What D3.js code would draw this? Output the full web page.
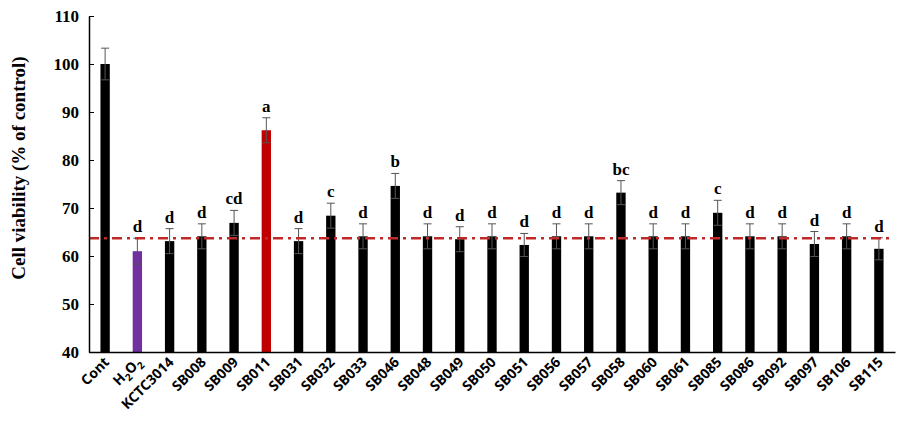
<!DOCTYPE html>
<html><head><meta charset="utf-8">
<script src="https://cdn.jsdelivr.net/npm/d3@7"></script>
<style>body{margin:0;background:#fff}</style>
</head><body><svg id="c" width="913" height="441"></svg>
<script>
const categories = ["Cont","H2O2","KCTC3014","SB008","SB009","SB011","SB031","SB032","SB033","SB046","SB048","SB049","SB050","SB051","SB056","SB057","SB058","SB060","SB061","SB085","SB086","SB092","SB097","SB106","SB115"];
const values = [100,61.0,63.1,64.1,66.9,86.2,63.1,68.4,64.1,74.6,64.1,63.5,64.1,62.3,64.1,64.1,73.2,64.1,64.1,69.0,64.1,64.1,62.5,64.1,61.5];
const errors = [3.3,2.7,2.6,2.6,2.6,2.6,2.6,2.6,2.6,2.6,2.6,2.6,2.6,2.4,2.6,2.6,2.5,2.6,2.6,2.6,2.6,2.6,2.6,2.6,2.3];
const letters = ["","d","d","d","cd","a","d","c","d","b","d","d","d","d","d","d","bc","d","d","c","d","d","d","d","d"];
const barColors = ["#000","#7030a0","#000","#000","#000","#c00000","#000","#000","#000","#000","#000","#000","#000","#000","#000","#000","#000","#000","#000","#000","#000","#000","#000","#000","#000"];
const yTicks = [40,50,60,70,80,90,100,110];
const refLine = 63.7;

const svg = d3.select("#c");
const mLeft = 89, mRight = 895, mTop = 16, mBottom = 352;
const x = d3.scaleBand().domain(categories).range([mLeft, mRight]).paddingInner(0.71).paddingOuter(0.355);
const y = d3.scaleLinear().domain([40,110]).range([mBottom, mTop]);

// bars
svg.selectAll("rect.bar").data(categories).join("rect")
  .attr("x", d => x(d)).attr("width", x.bandwidth())
  .attr("y", (d,i) => y(values[i])).attr("height", (d,i) => mBottom - y(values[i]))
  .attr("fill", (d,i) => barColors[i]);

// error bars
const eb = svg.append("g").attr("stroke", "#555").attr("stroke-width", 1);
categories.forEach((c,i) => {
  const cx = x(c) + x.bandwidth()/2;
  eb.append("line").attr("x1", cx).attr("x2", cx).attr("y1", y(values[i]-errors[i])).attr("y2", y(values[i]+errors[i]));
  eb.append("line").attr("x1", cx-4).attr("x2", cx+4).attr("y1", y(values[i]+errors[i])).attr("y2", y(values[i]+errors[i]));
  eb.append("line").attr("x1", cx-4).attr("x2", cx+4).attr("y1", y(values[i]-errors[i])).attr("y2", y(values[i]-errors[i]));
});

// reference dash-dot line
svg.append("line").attr("x1", mLeft).attr("x2", 892).attr("y1", y(refLine)).attr("y2", y(refLine))
  .attr("stroke", "#c0282a").attr("stroke-width", 2.5).attr("stroke-dasharray", "10,5,3,5");

// letters
svg.selectAll("text.let").data(categories).join("text")
  .attr("x", d => x(d) + x.bandwidth()/2)
  .attr("y", (d,i) => y(values[i]+errors[i]) - 6)
  .attr("text-anchor", "middle")
  .attr("font-family", "Liberation Serif, Times New Roman, serif").attr("font-weight", "bold").attr("font-size", 17)
  .text((d,i) => letters[i]);

// axes
const yAxis = d3.axisLeft(y).tickValues(yTicks).tickSizeInner(-5).tickSizeOuter(0).tickPadding(10);
const gy = svg.append("g").attr("transform", `translate(${mLeft},0)`).call(yAxis);
gy.select(".domain").attr("stroke", "#000").attr("stroke-width", 1.5);
gy.selectAll("line").attr("stroke", "#000");
gy.selectAll("text").attr("font-family", "Liberation Serif, Times New Roman, serif").attr("font-weight", "bold").attr("font-size", 17).attr("fill", "#000");

const xAxis = d3.axisBottom(x).tickSize(0).tickSizeOuter(0).tickFormat("");
const gx = svg.append("g").attr("transform", `translate(0,${mBottom})`).call(xAxis);
gx.select(".domain").attr("stroke", "#000").attr("stroke-width", 1.5);

// x labels rotated -45
const lab = svg.append("g");
categories.forEach(c => {
  const cx = x(c) + x.bandwidth()/2 + 5;
  const t = lab.append("text")
    .attr("x", cx).attr("y", 363)
    .attr("transform", "rotate(-45," + cx.toFixed(2) + ",363)")
    .attr("text-anchor", "end")
    .attr("font-family", "Noto Sans, Open Sans, sans-serif").attr("font-weight", "bold").attr("font-size", 14).attr("fill", "#000");
  if (c === "H2O2") {
    t.append("tspan").text("H");
    t.append("tspan").text("2").attr("font-size", 10).attr("dy", 4);
    t.append("tspan").text("O").attr("dy", -4);
    t.append("tspan").text("2").attr("font-size", 10).attr("dy", 4);
  } else t.text(c);
});

// y title
svg.append("text").attr("transform", "translate(25,168) rotate(-90)")
  .attr("text-anchor", "middle")
  .attr("font-family", "Liberation Serif, Times New Roman, serif").attr("font-weight", "bold").attr("font-size", 19)
  .text("Cell viability (% of control)");
</script></body></html>
